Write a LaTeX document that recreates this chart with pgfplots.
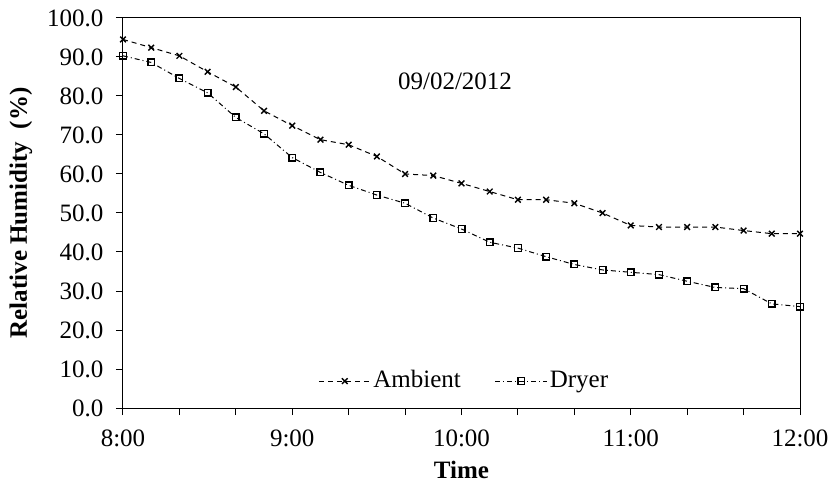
\documentclass[border=0pt]{standalone}
\usepackage{fontspec}
\setmainfont{Liberation Serif}
\usepackage{pgfplots}
\pgfplotsset{compat=1.18}
\begin{document}
\fontsize{25}{29}\selectfont
\begin{tikzpicture}
\begin{axis}[
  scale only axis,
  width=677pt, height=390pt,
  xmin=0, xmax=240, ymin=0, ymax=100,
  axis line style={line width=1pt},
  every tick/.style={black, line width=1pt},
  tick align=outside,
  xtick pos=bottom, ytick pos=left,
  major tick length=7pt, minor tick length=7pt,
  xtick={0,60,120,180,240},
  xticklabels={8:00,9:00,10:00,11:00,12:00},
  minor xtick={20,40,80,100,140,160,200,220},
  ytick={0,10,...,100},
  yticklabel style={xshift=-4pt, /pgf/number format/.cd,fixed,fixed zerofill,precision=1,assume math mode=true},
  xticklabel style={yshift=-6pt},
  ticklabel style={font=\fontsize{25}{29}\selectfont},
  xlabel={\textbf{Time}},
  ylabel={\textbf{Relative Humidity\ \ (\%)}},
  label style={font=\fontsize{25}{29}\selectfont},
  xlabel style={yshift=2pt},
  ylabel style={yshift=-2pt},
  legend style={draw=none, fill=none, at={(rel axis cs:0.504,0.069)}, anchor=center,
    legend columns=2, font=\fontsize{25}{29}\selectfont,
    /tikz/every even column/.append style={column sep=32pt}},
  legend image code/.code={\draw[mark repeat=2,mark phase=2,#1] plot coordinates {(0pt,0pt) (26pt,0pt) (52pt,0pt)};},
]
\addplot[black, line width=1pt, dash pattern=on 5pt off 4pt, mark=x, mark size=4pt, mark options={solid, line width=1.4pt}] coordinates {
(0,94.5)(10,92.4)(20,90.3)(30,86.2)(40,82.3)(50,76.2)(60,72.4)(70,68.8)(80,67.5)(90,64.5)(100,60.0)(110,59.6)(120,57.6)
(130,55.5)(140,53.4)(150,53.4)(160,52.5)(170,50.0)(180,46.8)(190,46.4)(200,46.4)(210,46.4)(220,45.5)(230,44.7)(240,44.7)};
\addlegendentry{Ambient}
\addplot[black, line width=1pt, dash pattern=on 5pt off 3pt on 1pt off 3pt, mark=square, mark size=3.3pt, mark options={solid, line width=1.4pt}] coordinates {
(0,90.3)(10,88.6)(20,84.5)(30,80.8)(40,74.5)(50,70.3)(60,64.2)(70,60.4)(80,57.1)(90,54.6)(100,52.5)(110,48.7)(120,45.9)
(130,42.5)(140,41.0)(150,38.8)(160,36.8)(170,35.4)(180,34.8)(190,34.2)(200,32.5)(210,30.9)(220,30.6)(230,26.7)(240,26.0)};
\addlegendentry{Dryer}
\node[font=\fontsize{25}{29}\selectfont] at (axis cs:117.7,83.7) {09/02/2012};
\coordinate (sw) at (rel axis cs:0,0);
\coordinate (ne) at (rel axis cs:1,1);
\end{axis}
\pgfresetboundingbox
\path (sw) ++(-123pt,-82pt) coordinate (a);
\path (ne) ++(33pt,18pt) coordinate (b);
\path[use as bounding box] (a) rectangle (b);
\end{tikzpicture}
\end{document}
